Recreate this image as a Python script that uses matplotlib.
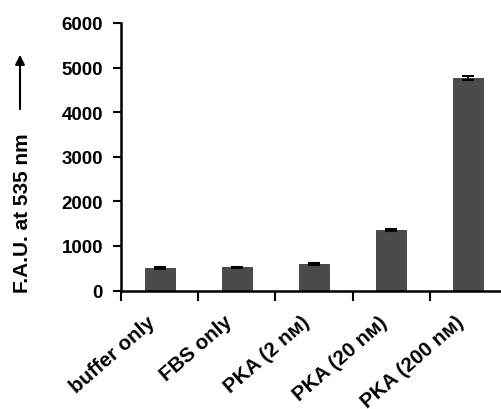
import matplotlib
matplotlib.use("Agg")
import matplotlib.pyplot as plt
import numpy as np

categories = ["buffer only", "FBS only", "PKA (2 n\u1d0d)", "PKA (20 n\u1d0d)", "PKA (200 n\u1d0d)"]
values = [505, 518, 595, 1360, 4775]
errors = [25, 20, 25, 25, 45]
yticks = [0, 1000, 2000, 3000, 4000, 5000, 6000]

plt.rcParams['font.family'] = ['Liberation Sans', 'DejaVu Sans']
plt.rcParams['font.weight'] = 'bold'
FS = 13.5

fig = plt.figure(figsize=(5.02, 4.10), dpi=100)
ax = fig.add_axes([121/502, (410-291.5)/410, 1 - 121/502 + 0.01, (291.5-24)/410])

x = np.arange(len(categories))
ax.bar(x, values, width=0.39, color="#4b4b4b", edgecolor="#3a3a3a", linewidth=0.6,
       yerr=errors, error_kw=dict(ecolor="black", capsize=4, elinewidth=1.2, capthick=1.5))

ax.set_xlim(-0.5, 4.5)
ax.set_ylim(0, 6000)
ax.set_yticks(yticks)
ax.set_yticklabels([str(v) for v in yticks], fontsize=FS, fontweight='bold')
ax.set_xticks(np.arange(-0.5, 4.0, 1.0))
ax.set_xticklabels([])
ax.tick_params(axis='x', direction='out', length=7, width=1.5)
ax.tick_params(axis='y', direction='out', length=6, width=1.5, pad=7)
for s in ['top', 'right']:
    ax.spines[s].set_visible(False)
for s in ['left', 'bottom']:
    ax.spines[s].set_linewidth(1.8)

for i, lab in enumerate(categories):
    ax.text(i - 0.17, -480, lab, rotation=41, ha='right', va='top', rotation_mode='anchor',
            fontsize=14.8, fontweight='bold', transform=ax.transData, clip_on=False)

fig.text(23/502, 1 - 213/410, "F.A.U. at 535 nm", rotation=90, ha='center', va='center',
         fontsize=15, fontweight='bold')
fig.patches.append(matplotlib.patches.FancyArrowPatch(
    (20/502, 1 - 113/410), (20/502, 1 - 53/410), transform=fig.transFigure,
    arrowstyle='-|>', mutation_scale=14, color='black', linewidth=1.5))

fig.savefig("out.png", dpi=100)
